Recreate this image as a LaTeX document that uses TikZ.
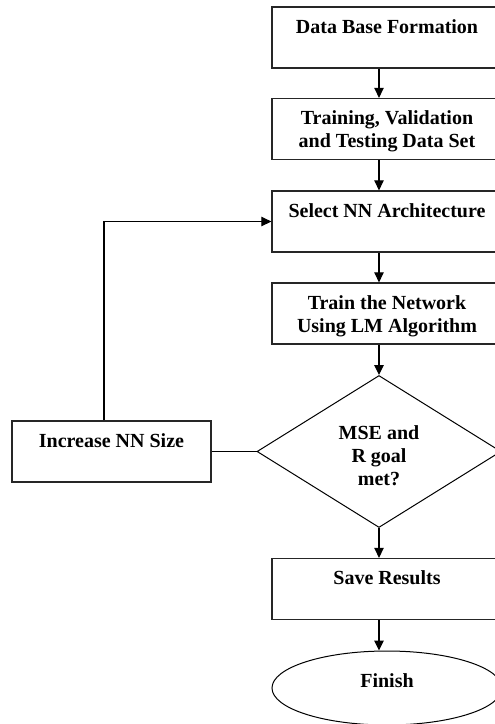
\documentclass[tikz,border=0pt]{standalone}
\usepackage{fontspec}
\setmainfont{Liberation Serif}
\usetikzlibrary{shapes.geometric,arrows.meta}
% line struts: 18.5pt above, 4.5pt below the baseline
\newcommand\ls{\rule[-4.5pt]{0pt}{23pt}}
\newcommand\lstop{\rule[-4.5pt]{0pt}{30pt}}
\begin{document}
\begin{tikzpicture}[x=1pt,y=-1pt,
  every node/.style={font=\fontsize{20}{23}\selectfont\bfseries, align=center, inner sep=0pt},
  stepbox/.style={draw=black!85, line width=1.3pt, minimum width=230pt, minimum height=61pt},
  decision/.style={diamond, draw=black, line width=1pt, aspect=1.6, minimum width=244pt, minimum height=152pt},
  endshape/.style={ellipse, draw=black, line width=1pt, minimum width=230pt, minimum height=74pt},
  flow/.style={draw=black, line width=1.1pt, -{Triangle[length=10pt,width=9.5pt]}},
  link/.style={draw=black, line width=1.1pt}]
\useasboundingbox (0,0) rectangle (495,724);
\fill[white] (0,0) rectangle (495,724);
\clip (0,0) rectangle (495,724);

% process steps
\node[stepbox] (db)    at (387,37.5)  {Data Base Formation\ls\\\ls};
\node[stepbox] (tv)    at (387,129)   {Training, Validation\ls\\and Testing Data Set\ls};
\node[stepbox] (sel)   at (387,221.5) {Select NN Architecture\ls\\\ls};
\node[stepbox] (train) at (387,313.5) {Train the Network\ls\\Using LM Algorithm\ls};
\node[decision] (goal) at (379,451.5) {\lstop MSE and\ls\\R goal\ls\\met?\ls};
\node[stepbox, minimum width=199pt] (inc) at (111.5,451.5) {Increase NN Size\ls\\\ls};
\node[stepbox] (save)  at (387,589)   {Save Results\ls\\\ls};
\node[endshape] (fin)  at (387,688)   {\rule[-16pt]{0pt}{30pt}Finish};

% main flow
\draw[flow] (db.south -| goal)    -- (tv.north -| goal);
\draw[flow] (tv.south -| goal)    -- (sel.north -| goal);
\draw[flow] (sel.south -| goal)   -- (train.north -| goal);
\draw[flow] (train.south -| goal) -- (goal.north);
\draw[flow] (goal.south)          -- (save.north -| goal);
\draw[flow] (save.south -| goal)  -- (fin.north -| goal);

% retry loop
\draw[link] (goal.west) -- (inc.east);
\draw[flow] ([xshift=-7.5pt]inc.north) |- (sel.west);
\end{tikzpicture}
\end{document}
